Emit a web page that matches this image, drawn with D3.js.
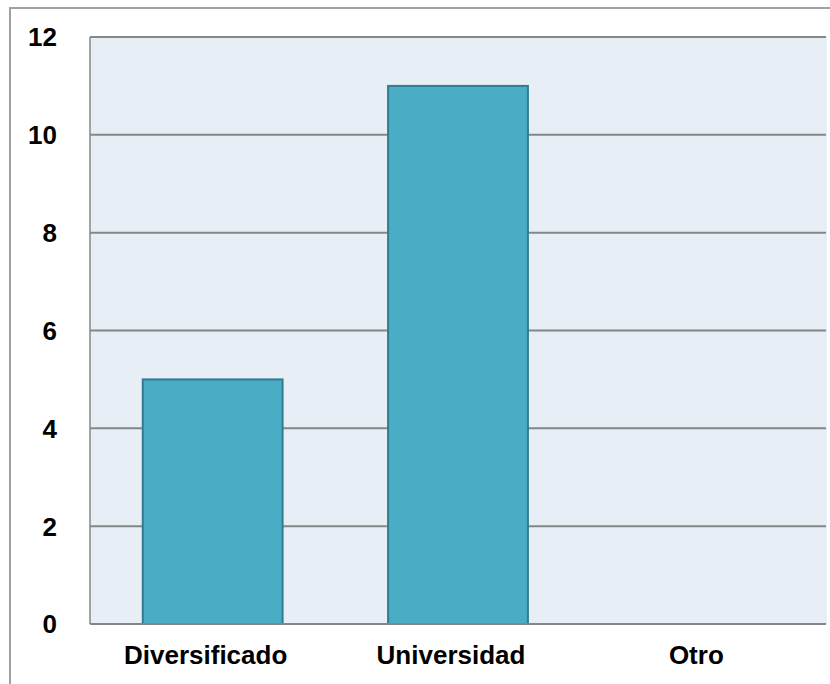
<!DOCTYPE html>
<html>
<head>
<meta charset="utf-8">
<script src="https://cdn.jsdelivr.net/npm/d3@7"></script>
<style>
  body { margin: 0; background: #fff; }
  svg { display: block; }
  text { font-family: Arial, "Liberation Sans", sans-serif; font-weight: bold; fill: #000; }
</style>
</head>
<body>
<svg id="chart" width="830" height="684"></svg>
<script>
// data
const categories = ["Diversificado", "Universidad", "Otro"];
const values = [5, 11, 0];
const yTicks = [0, 2, 4, 6, 8, 10, 12];

const width = 830, height = 684;
const margin = {top: 37, right: 4, bottom: 60, left: 90};

const svg = d3.select("#chart");

// outer frame (runs off right and bottom)
svg.append("path")
    .attr("d", "M10," + (height + 2) + "V8H" + (width + 2))
    .attr("fill", "none")
    .attr("stroke", "#a0a0a0")
    .attr("stroke-width", 2);

const x = d3.scaleBand()
    .domain(categories)
    .range([margin.left, width - margin.right]);

const y = d3.scaleLinear()
    .domain([0, 12])
    .range([height - margin.bottom, margin.top]);

// plot background
svg.append("rect")
    .attr("x", margin.left)
    .attr("y", margin.top)
    .attr("width", width - margin.right - margin.left + 1)
    .attr("height", y(0) - margin.top)
    .attr("fill", "#e7eef6");

// gridlines
svg.append("g")
    .selectAll("line")
    .data(yTicks.filter(d => d > 0))
    .join("line")
    .attr("x1", margin.left)
    .attr("x2", width - margin.right)
    .attr("y1", d => y(d))
    .attr("y2", d => y(d))
    .attr("stroke", "#868686")
    .attr("stroke-width", 2);

// left border of plot
svg.append("line")
    .attr("x1", margin.left).attr("x2", margin.left)
    .attr("y1", margin.top).attr("y2", y(0))
    .attr("stroke", "#868686")
    .attr("stroke-width", 1.5);

// bars
const barW = x.bandwidth() * 0.57;
svg.append("g")
    .selectAll("rect")
    .data(values)
    .join("rect")
    .attr("x", (d, i) => x(categories[i]) + (x.bandwidth() - barW) / 2)
    .attr("y", d => y(d))
    .attr("width", barW)
    .attr("height", d => y(0) - y(d))
    .attr("fill", "#4bacc6")
    .attr("stroke", d => d > 0 ? "#2f7d92" : "none")
    .attr("stroke-width", 2);

// x axis line
svg.append("line")
    .attr("x1", margin.left).attr("x2", width - margin.right)
    .attr("y1", y(0)).attr("y2", y(0))
    .attr("stroke", "#868686")
    .attr("stroke-width", 2);

// y tick labels
svg.append("g")
    .selectAll("text")
    .data(yTicks)
    .join("text")
    .attr("x", 57)
    .attr("y", d => y(d))
    .attr("dy", "0.36em")
    .attr("text-anchor", "end")
    .style("font-size", "26px")
    .text(d => d);

// category labels
svg.append("g")
    .selectAll("text")
    .data(categories)
    .join("text")
    .attr("x", d => x(d) + x.bandwidth() / 2 - 7)
    .attr("y", 664)
    .attr("text-anchor", "middle")
    .style("font-size", "26px")
    .text(d => d);
</script>
</body>
</html>
